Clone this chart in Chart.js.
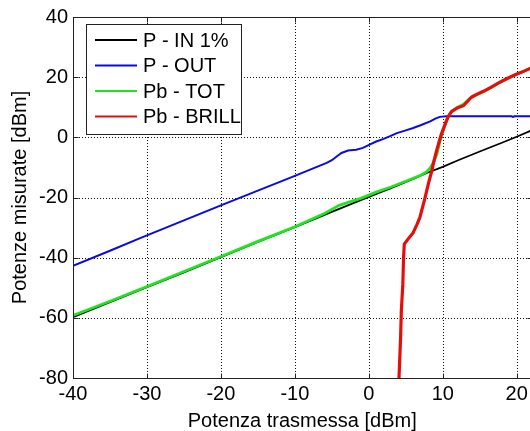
<!DOCTYPE html>
<html>
<head>
<meta charset="utf-8">
<script src="https://cdn.jsdelivr.net/npm/chart.js@4/dist/chart.umd.min.js"></script>
<style>
  html, body { margin: 0; padding: 0; background: #fff; }
  #wrap { width: 530px; height: 431px; overflow: hidden; position: relative; }
  canvas { display: block; }
</style>
</head>
<body>
<div id="wrap"><canvas id="c" width="540" height="431"></canvas></div>
<script>
// Axis tick values
const xTicks = [-40, -30, -20, -10, 0, 10, 20];
const yTicks = [-80, -60, -40, -20, 0, 20, 40];

// P - IN 1%
const pInX = [-40, -35, -30, -25, -20, -15, -10, -5, 0, 3, 6, 8, 10, 12, 15, 18, 20, 22, 23];
const pInY = [-59.8, -54.8, -49.8, -44.9, -39.8, -34.8, -29.9, -24.8, -19.8, -16.9, -13.8, -11.7, -9.8, -7.7, -4.7, -1.8, 0.2, 2.3, 3.2];

// P - OUT
const pOutX = [-40, -35, -31, -25, -20, -15, -10, -5.7, -5, -4.3, -3.7, -2.8, -1.7, -0.8, 0.1, 1, 2, 2.8, 3.8, 5, 6, 7, 8.3, 9, 9.6, 10.5, 12, 15, 19.3, 19.5, 19.7, 22, 23];
const pOutY = [-42.7, -37.7, -33.6, -27.6, -22.6, -17.7, -12.8, -8.5, -7.6, -6.3, -5.2, -4.4, -4.1, -3.5, -2.4, -1.4, -0.5, 0.3, 1.4, 2.3, 3.1, 4.0, 5.3, 6.2, 6.8, 7.0, 7.0, 7.0, 7.0, 6.8, 7.0, 7.0, 7.0];

// Pb - TOT
const pbTotX = [-40, -35, -30, -25, -20, -15, -10, -6, -4, -3, -1, 1, 3, 5, 7, 7.8, 8.3, 8.7, 9.2, 9.6, 10.0, 10.3, 10.7, 11.0, 11.5, 12, 12.8, 13.7, 14.5, 15.5, 16.5, 17.5, 18.5, 19.8, 21, 22, 23];
const pbTotY = [-59.2, -54.5, -49.6, -44.6, -39.6, -34.6, -29.7, -25.3, -22.6, -21.8, -20.2, -18.2, -16.5, -14.6, -12.6, -11.5, -10.2, -8.5, -5.7, -1.5, 1.8, 4.2, 6.5, 8.0, 9.2, 10.0, 11.0, 13.0, 14.0, 15.2, 16.5, 18.0, 19.2, 20.8, 22.0, 23.2, 24.2];

// Pb - BRILL
const pbBrillX = [4.05, 4.3, 4.4, 4.6, 4.7, 4.8, 5.4, 6.0, 6.5, 6.9, 7.6, 8.1, 8.5, 8.8, 9.1, 9.4, 9.8, 10.3, 10.7, 11.2, 12.0, 12.8, 13.9, 14.5, 15.5, 16.5, 17.5, 18.5, 19.8, 21, 22, 23];
const pbBrillY = [-82, -66.5, -57.6, -48.8, -40, -35.5, -33.5, -31.7, -29, -26.7, -20.1, -15, -11.3, -8, -5, -2.4, 1.0, 4.2, 6.8, 8.6, 9.8, 10.5, 13.4, 14.2, 15.3, 16.6, 18.0, 19.3, 20.8, 22.0, 23.1, 24.1];

const seriesLabels = ['P - IN 1%', 'P - OUT', 'Pb - TOT', 'Pb - BRILL'];
const seriesColors = ['#000000', '#0a0ae6', '#1ee61e', '#e60d0d'];
const seriesWidths = [1.8, 2, 2.8, 3.2];

const FONT = '"Liberation Sans", Arial, Helvetica, sans-serif';

const zip = (xs, ys) => xs.map((x, i) => ({ x, y: ys[i] }));
const seriesData = [zip(pInX, pInY), zip(pOutX, pOutY), zip(pbTotX, pbTotY), zip(pbBrillX, pbBrillY)];

const datasets = seriesData.map((d, i) => ({
  label: seriesLabels[i],
  data: d,
  showLine: true,
  borderColor: seriesColors[i],
  backgroundColor: seriesColors[i],
  borderWidth: seriesWidths[i],
  pointRadius: 0,
  tension: 0,
  order: 4 - i
}));

// Dotted grid, axes frame with inward tick marks, and the boxed legend inside the plot
const framePlugin = {
  id: 'frame',
  beforeDatasetsDraw(chart) {
    const { ctx, chartArea: a, scales: { x, y } } = chart;
    ctx.save();
    ctx.strokeStyle = '#111';
    ctx.lineWidth = 1;
    ctx.setLineDash([1, 2]);
    ctx.beginPath();
    xTicks.forEach(v => {
      const px = Math.round(x.getPixelForValue(v)) + 0.5;
      ctx.moveTo(px, a.top); ctx.lineTo(px, a.bottom);
    });
    yTicks.forEach(v => {
      const py = Math.round(y.getPixelForValue(v)) + 0.5;
      ctx.moveTo(a.left, py); ctx.lineTo(a.right, py);
    });
    ctx.stroke();
    ctx.restore();
  },
  afterDatasetsDraw(chart) {
    const { ctx, chartArea: a, scales: { x, y } } = chart;
    ctx.save();
    ctx.strokeStyle = '#222';
    ctx.lineWidth = 1;
    ctx.setLineDash([]);
    const L = Math.round(a.left) + 0.5, R = Math.round(a.right) + 0.5;
    const T = Math.round(a.top) + 0.5, B = Math.round(a.bottom) + 0.5;
    ctx.beginPath();
    ctx.moveTo(L, T); ctx.lineTo(R, T); ctx.lineTo(R, B); ctx.lineTo(L, B); ctx.closePath();
    ctx.stroke();
    const tl = 5;
    ctx.beginPath();
    xTicks.forEach(v => {
      const px = Math.round(x.getPixelForValue(v)) + 0.5;
      ctx.moveTo(px, B); ctx.lineTo(px, B - tl);
      ctx.moveTo(px, T); ctx.lineTo(px, T + tl);
    });
    yTicks.forEach(v => {
      const py = Math.round(y.getPixelForValue(v)) + 0.5;
      ctx.moveTo(L, py); ctx.lineTo(L + tl, py);
      ctx.moveTo(R, py); ctx.lineTo(R - tl, py);
    });
    ctx.stroke();
    ctx.restore();
  },
  afterDraw(chart) {
    const { ctx } = chart;
    ctx.save();
    const bx = 86.5, by = 24.5, bw = 155, bh = 110;
    ctx.fillStyle = '#fff';
    ctx.fillRect(bx, by, bw, bh);
    ctx.strokeStyle = '#222';
    ctx.lineWidth = 1;
    ctx.strokeRect(bx, by, bw, bh);
    const rows = [40, 65.5, 91, 116.5];
    ctx.font = '20px ' + FONT;
    ctx.textBaseline = 'middle';
    ctx.textAlign = 'left';
    chart.data.datasets.forEach((ds, i) => {
      ctx.strokeStyle = ds.borderColor;
      ctx.lineWidth = 2;
      ctx.beginPath();
      ctx.moveTo(95, rows[i]);
      ctx.lineTo(137, rows[i]);
      ctx.stroke();
      ctx.fillStyle = '#000';
      ctx.fillText(ds.label, 143, rows[i] + 1);
    });
    ctx.restore();
  }
};

new Chart(document.getElementById('c'), {
  type: 'scatter',
  data: { datasets },
  plugins: [framePlugin],
  options: {
    responsive: false,
    animation: false,
    devicePixelRatio: 1,
    layout: { padding: { top: 15, right: 8.5, bottom: 0, left: 0 } },
    plugins: { legend: { display: false }, tooltip: { enabled: false } },
    scales: {
      x: {
        type: 'linear',
        min: -40, max: 22,
        afterBuildTicks: s => { s.ticks = xTicks.map(v => ({ value: v })); },
        afterFit: s => { s.height = 53; },
        grid: { display: false, drawTicks: false },
        border: { display: false },
        ticks: { color: '#000', padding: 4, maxRotation: 0, font: { family: FONT, size: 20 } },
        title: {
          display: true, text: 'Potenza trasmessa [dBm]', color: '#000',
          font: { family: FONT, size: 20 }, padding: { top: 0, bottom: -2 }
        }
      },
      y: {
        type: 'linear',
        min: -80, max: 40,
        afterBuildTicks: s => { s.ticks = yTicks.map(v => ({ value: v })); },
        afterFit: s => { s.width = 73; },
        grid: { display: false, drawTicks: false },
        border: { display: false },
        ticks: { color: '#000', padding: 5, font: { family: FONT, size: 20 } },
        title: {
          display: true, text: 'Potenze misurate [dBm]', color: '#000',
          font: { family: FONT, size: 20 }, padding: { top: 8, bottom: 0 }
        }
      }
    }
  }
});
</script>
</body>
</html>
